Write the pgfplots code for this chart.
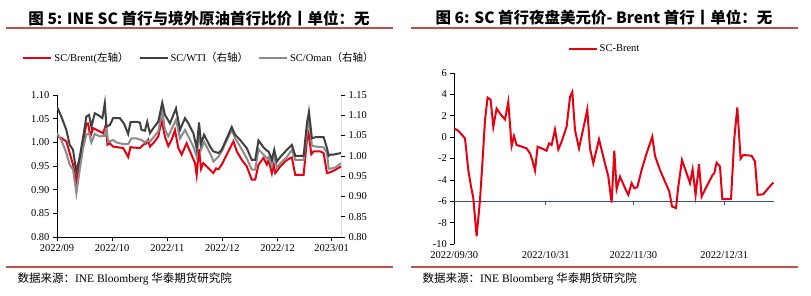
\documentclass[border=0pt]{standalone}
\usepackage{fontspec}
\usepackage{pgfplots}
\pgfplotsset{compat=1.18}
\setmainfont{Liberation Serif}
\newfontfamily\cjk{Noto Sans CJK SC}
\definecolor{scred}{RGB}{230,0,18}
\definecolor{wtigray}{RGB}{64,64,64}
\definecolor{omgray}{RGB}{140,140,140}
\definecolor{rulered}{RGB}{192,80,77}
\definecolor{navyline}{RGB}{47,82,143}

\pgfplotstableread{
x v
0 1.012
4.3 1.009
9.3 1.002
12.7 0.977
16 0.953
19.3 0.914
22.7 0.956
26 0.998
29.3 1.040
31 1.040
33.3 1.012
36 1.030
42.7 1.023
46 1.019
48.7 1.037
50.3 0.995
52.7 0.998
56 0.991
59.3 0.990
66 0.988
71 0.969
73.3 0.990
76 0.989
82.7 0.988
86 0.995
89.3 0.998
91 1.005
92.7 0.991
96 0.998
101 1.012
104.3 1.047
107.7 1.012
111 0.992
114.3 1.005
117.7 1.026
121 0.988
124.3 0.974
129.3 0.998
132.7 0.981
137.7 0.956
139.3 0.931
141.7 0.986
143.7 0.944
146 0.956
152.7 0.942
156 0.935
158.7 0.945
161 0.943
164.3 0.953
176 1.002
179.3 0.981
184.3 0.963
189.3 0.949
194.3 0.921
197.7 0.921
201 0.953
206 0.967
209.3 0.953
211 0.963
214.3 0.935
216 0.956
217.7 0.935
222.7 0.949
227.7 0.960
232.7 0.967
234.3 0.968
237.7 0.931
246 0.931
249.3 1.005
251 1.019
253.7 0.975
256 0.981
262.7 0.981
266 0.977
269.3 0.935
272.7 0.937
276 0.940
279.3 0.944
283.3 0.949
}\brent

\pgfplotstableread{
x v
0 1.121
4.3 1.097
9.3 1.064
12.7 1.027
16 1.015
19.3 0.960
22.7 0.998
26 1.045
29.3 1.097
32 1.101
34.3 1.072
37.7 1.105
42.7 1.098
45.3 1.093
47.7 1.130
49.3 1.072
52.7 1.076
56 1.093
62.7 1.093
66.7 1.080
71 1.054
73.3 1.083
79.3 1.084
82.7 1.082
84.3 1.064
87.7 1.062
90 1.084
92.7 1.056
96 1.068
101 1.084
105 1.131
107.7 1.101
112.7 1.080
118.7 1.117
122.7 1.064
127.7 1.093
131 1.080
136 1.056
139.3 1.019
141.7 1.082
143.7 1.030
146.7 1.052
152.7 1.023
156 1.011
161 1.007
164.3 1.015
174.3 1.071
177.7 1.052
182.7 1.039
189.3 1.019
194.3 0.990
197.7 0.990
201 1.038
206 1.021
209.3 1.013
211 1.011
214.3 0.990
216.7 1.015
219.3 0.986
222.7 0.997
229.3 1.015
234.3 1.027
237.7 1.000
246 1.000
249.3 1.080
251.3 1.109
254.3 1.043
257.7 1.046
266 1.046
269.3 1.019
271 1.000
272.7 1.003
276 1.003
279.3 1.005
283.3 1.007
}\wti

\pgfplotstableread{
x v
0 1.056
4.3 1.039
9.3 1.007
12.7 0.978
16 0.966
19.3 0.908
22.7 0.966
26 1.019
29.3 1.052
32 1.056
34.3 1.033
37.7 1.054
42.7 1.048
47.7 1.049
49.3 1.072
51 1.035
56 1.039
59.3 1.033
62.7 1.031
66 1.029
71 1.029
74.3 1.043
79.3 1.043
84.3 1.039
87.7 1.033
90 1.038
92.7 1.035
101 1.060
105 1.113
107.7 1.064
111 1.048
118.7 1.089
122.7 1.043
127.7 1.064
131 1.048
136 1.023
139.3 0.998
141.7 1.060
143.7 1.015
146.7 1.035
154.3 0.998
156 0.986
161 0.998
164.3 1.011
174.3 1.064
177.7 1.043
182.7 1.023
189.3 0.994
194.3 0.966
197.7 0.966
201 1.016
206 1.003
209.3 0.994
211 0.997
214.3 0.974
216.7 1.003
219.3 0.970
222.7 0.982
229.3 0.997
234.3 1.015
237.7 0.990
246 0.990
249.3 1.060
251.3 1.093
254.3 1.025
257.7 1.023
266 1.021
269.3 1.007
271 0.968
276 0.970
279.3 0.974
283.3 0.982
}\oman

\pgfplotstableread{
x v
0 0.81
4 0.60
10.7 -0.12
14 -3.07
16.7 -4.62
19 -5.71
22.3 -9.28
25.7 -5.87
28.3 -2.14
30.7 1.59
33.3 3.70
36.3 3.51
39 0.97
42.3 2.68
45.7 2.21
50.7 1.65
54 3.30
57.3 -0.83
59.7 0.10
62.3 -0.74
65.7 -0.83
72.3 -1.05
75.7 -1.52
78 -2.14
80.7 -3.13
83.3 -0.90
87.3 -1.05
92.3 -1.27
94.7 -0.59
97.3 -0.74
100.7 0.72
104 -1.15
107.3 -0.43
112.3 0.97
115.7 3.76
118 4.23
120.7 0.66
124.7 -1.05
129 0.81
133 2.58
135.7 -1.05
139 -2.45
144.7 -0.21
149 -1.83
154 -3.69
157.3 -6.12
160 -1.27
162.3 -4.87
165.7 -3.69
170.7 -4.78
174 -5.40
177.3 -4.31
180 -4.78
183 -4.69
187.3 -3.07
192.3 -1.52
198 0.04
200.7 -1.77
205.7 -3.07
210.7 -4.16
215 -5.09
217.7 -6.49
221.7 -6.64
224 -4.62
227.7 -2.14
232.3 -3.38
235.7 -4.31
238.3 -3.01
241.3 -5.40
244.7 -2.54
247.3 -5.56
252.3 -4.62
258.3 -3.54
260 -3.38
262.3 -2.39
265.7 -2.76
268 -5.80
272.3 -5.80
276.7 -5.80
280 -0.12
283 2.77
286.3 -2.01
289 -1.67
297.3 -1.74
300.7 -2.29
303.3 -5.40
309 -5.34
314 -4.78
319 -4.25
}\spread

\begin{document}
\begin{tikzpicture}
\path[use as bounding box, fill=white] (0pt,0pt) rectangle (811pt,295pt);

% titles
\node[font=\cjk\bfseries\fontsize{15.5}{15.5}\selectfont] at (199pt,276.5pt) {图 5: INE SC 首行与境外原油首行比价丨单位：无};
\node[font=\cjk\bfseries\fontsize{15.5}{15.5}\selectfont] at (604pt,277.5pt) {图 6: SC 首行夜盘美元价- Brent 首行丨单位：无};
\draw[rulered, line width=2pt] (6pt,266.5pt) -- (393pt,266.5pt);
\draw[rulered, line width=2pt] (411pt,266.5pt) -- (798pt,266.5pt);
\draw[rulered, line width=2pt] (6pt,28pt) -- (393pt,28pt);
\draw[rulered, line width=2pt] (411pt,28pt) -- (798pt,28pt);
\node[anchor=west, font=\fontsize{11.5}{11.5}\selectfont] at (14pt,16pt) {{\cjk 数据来源：}INE Bloomberg {\cjk 华泰期货研究院}};
\node[anchor=west, font=\fontsize{11.5}{11.5}\selectfont] at (419pt,16pt) {{\cjk 数据来源：}INE Bloomberg {\cjk 华泰期货研究院}};

\pgfplotsset{
  common/.style={
    scale only axis,
    anchor=south west,
    tick align=outside,
    major tick length=4pt,
    tick style={black, line width=0.6pt},
    axis line style={draw=none},
    ticklabel style={font=\fontsize{10.5}{10.5}\selectfont},
    /pgf/number format/assume math mode=true,
    legend image code/.code={\draw[#1] (0pt,0pt) -- (28pt,0pt);},
  }
}

% left panel, left axis
\begin{axis}[common,
  at={(57pt,58pt)}, width=284pt, height=142pt,
  xmin=0, xmax=283.3, ymin=0.8, ymax=1.10,
  xtick pos=bottom, ytick pos=left,
  xtick={0,55,110,165,220,274},
  xticklabels={2022/09,2022/10,2022/11,2022/12,2022/12,2023/01},
  ytick={0.80,0.85,0.90,0.95,1.00,1.05,1.10},
  yticklabel style={/pgf/number format/.cd, fixed, fixed zerofill, precision=2},
  legend columns=3,
  legend style={at={(0.5,1.26)}, anchor=center, draw=none, fill=none,
    font=\fontsize{10.5}{10.5}\selectfont, /tikz/every even column/.append style={column sep=8pt}},
]
\draw[black, line width=0.8pt] (rel axis cs:0,1) -- (rel axis cs:0,0) -- (rel axis cs:1,0);
\addplot[scred, line width=2pt, no marks] table[x=x,y=v] {\brent};
\addlegendentry{SC/Brent({\cjk 左轴）}}
\addlegendimage{wtigray, line width=2pt}
\addlegendentry{SC/WTI{\cjk （右轴）}}
\addlegendimage{omgray, line width=2pt}
\addlegendentry{SC/Oman{\cjk （右轴）}}
\end{axis}

% left panel, right axis
\begin{axis}[common,
  at={(57pt,58pt)}, width=284pt, height=142pt,
  xmin=0, xmax=283.3, ymin=0.8, ymax=1.15,
  xtick=\empty, ytick pos=right,
  ytick={0.80,0.85,0.90,0.95,1.00,1.05,1.10,1.15},
  yticklabel style={/pgf/number format/.cd, fixed, fixed zerofill, precision=2},
]
\draw[black, line width=0.8pt] (rel axis cs:1,0) -- (rel axis cs:1,1);
\addplot[omgray, line width=2pt, no marks] table[x=x,y=v] {\oman};
\addplot[wtigray, line width=2pt, no marks] table[x=x,y=v] {\wti};
\end{axis}

% right panel
\begin{axis}[common,
  at={(454.3pt,51pt)}, width=319.7pt, height=171pt,
  xmin=0, xmax=319.7, ymin=-10, ymax=6,
  xtick pos=bottom, ytick pos=left,
  xtick={0,91.4,179,270},
  xtick style={draw=none},
  xticklabels={2022/09/30,2022/10/31,2022/11/30,2022/12/31},
  ytick={-10,-8,-6,-4,-2,0,2,4,6},
  legend style={at={(0.47,1.14)}, anchor=center, draw=none, fill=none,
    font=\fontsize{10.5}{10.5}\selectfont},
  clip=false,
]
\draw[black, line width=0.8pt] (rel axis cs:0,0) -- (rel axis cs:0,1);
\addplot[navyline, line width=1pt, no marks, forget plot] coordinates {(0,-6) (319.7,-6)};
\pgfplotsinvokeforeach{91.4,179,270}{\draw[navyline, line width=0.8pt] (axis cs:#1,-6) -- ++(0pt,-3.5pt);}
\addplot[scred, line width=2pt, no marks, forget plot] table[x=x,y=v] {\spread};
\addlegendimage{scred, line width=2pt}
\addlegendentry{SC-Brent}
\end{axis}
\end{tikzpicture}
\end{document}
